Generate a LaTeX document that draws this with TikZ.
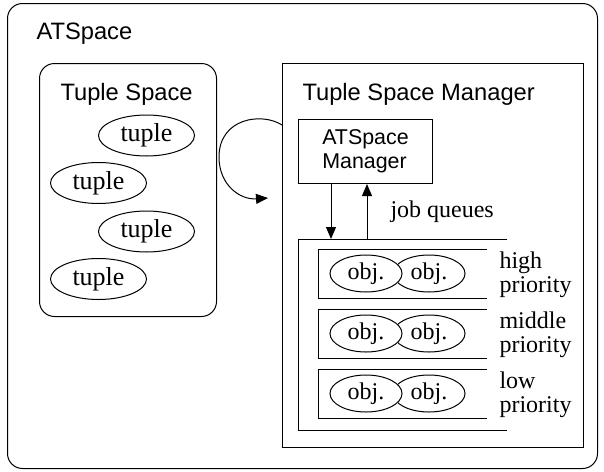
\documentclass[tikz,border=0pt]{standalone}
\usepackage{fontspec}
\setmainfont{Liberation Serif}
\setsansfont{Liberation Sans}
\usetikzlibrary{shapes.geometric,arrows.meta,calc}
\begin{document}
\begin{tikzpicture}[x=1pt,y=-1pt,line width=1pt,
  boxtitle/.style={font=\sffamily\fontsize{23.7}{28}\selectfont,anchor=base west,inner sep=0},
  plaintext/.style={font=\fontsize{24}{28}\selectfont,anchor=base west,inner sep=0},
  tuplenode/.style={ellipse,draw,fill=white,minimum width=96pt,minimum height=41pt,inner sep=0,
    font=\fontsize{26}{28}\selectfont},
  objnode/.style={ellipse,draw,fill=white,minimum width=72pt,minimum height=37pt,inner sep=0,
    font=\fontsize{24}{26}\selectfont},
  flowarrow/.style={-{Triangle[length=12pt,width=10pt]}}
]
\useasboundingbox (0,0) rectangle (604,471);

% outer container
\node[draw,rounded corners=15pt,minimum width=590pt,minimum height=465pt,
  anchor=north west,inner sep=0] (atspace) at (7,3) {};
\node[boxtitle] (atspacetitle) at (36,39) {ATSpace};

% tuple space with its tuples
\node[draw,rounded corners=15pt,minimum width=177pt,minimum height=253pt,
  anchor=north west,inner sep=0] (tspace) at (39,63) {};
\node[boxtitle] (tspacetitle) at (60,100) {Tuple Space};
\node[tuplenode] (t1) at (146.5,135.5) {tuple};
\node[tuplenode] (t2) at (98.5,183) {tuple};
\node[tuplenode] (t3) at (146.5,231.5) {tuple};
\node[tuplenode] (t4) at (98.5,279) {tuple};

% tuple space manager
\node[draw,minimum width=301pt,minimum height=384pt,
  anchor=north west,inner sep=0] (tsm) at (282,63) {};
\node[boxtitle] (tsmtitle) at (302,100) {Tuple Space Manager};
\node[draw,minimum width=134pt,minimum height=64pt,anchor=north west,inner sep=0,
  align=left,font=\sffamily\fontsize{21.4}{24}\selectfont] (atsm) at (298,119)
  {ATSpace\\Manager};

% job queues container (open on the right)
\coordinate (qa) at (507,239);
\coordinate (qb) at (298,239);
\coordinate (qc) at (298,430);
\coordinate (qd) at (507,430);
\draw (qa) -- (qb) -- (qc) -- (qd);
\coordinate (qin) at (331,239);
\coordinate (qout) at (367,239);

\draw[flowarrow] ($(atsm.south west)+(33,0)$) -- (qin);
\draw[flowarrow] (qout) -- ($(atsm.south west)+(69,0)$);
\node[plaintext] (jq) at (390,217) {job queues};

% the three priority queues
\foreach \i/\a/\b in {0/high/priority,1/middle/priority,2/low/priority}{
  \pgfmathsetmacro{\t}{249+60*\i}
  \coordinate (q\i a) at (487,\t);
  \coordinate (q\i b) at (318,\t);
  \coordinate (q\i c) at (318,\t+49);
  \coordinate (q\i d) at (487,\t+49);
  \draw (q\i a) -- (q\i b) -- (q\i c) -- (q\i d);
  \node[objnode] (o\i b) at (429,\t+24.5) {obj.};
  \node[objnode] (o\i a) at (366,\t+24.5) {obj.};
  \node[plaintext] (p\i a) at (499,\t+19) {\a};
  \node[plaintext] (p\i b) at (499,\t+43) {\b};
}

% loop arrow back into the manager
\coordinate (loopstart) at ($(tsm.north west)+(0,62)$);
\coordinate (loopend) at (268,198);
\draw[flowarrow] (loopstart) .. controls (262,112) and (219,118) .. (219,157)
  .. controls (219,185) and (240,200) .. (loopend);
\end{tikzpicture}
\end{document}
